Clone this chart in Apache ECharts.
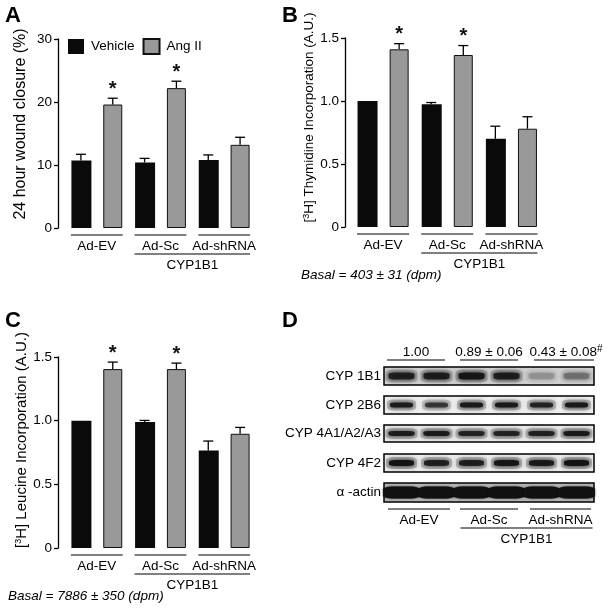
<!DOCTYPE html>
<html><head><meta charset="utf-8">
<script src="https://cdn.jsdelivr.net/npm/echarts@6/dist/echarts.min.js"></script>
<style>html,body{margin:0;padding:0;background:#fff}#c{width:612px;height:610px}</style>
</head><body><div id="c"></div>
<script>
// ---------- data ----------
const groups = ['Ad-EV', 'Ad-Sc', 'Ad-shRNA'];
const slots = ['EV-Veh', 'EV-Ang', 'Sc-Veh', 'Sc-Ang', 'sh-Veh', 'sh-Ang'];
const seriesNames = ['Vehicle', 'Ang II'];

// Panel A: 24 hour wound closure (%)
const aVehicle = [10.7, 10.4, 10.8];
const aVehicleErr = [1.0, 0.65, 0.8];
const aAng = [19.6, 22.2, 13.2];
const aAngErr = [1.0, 1.1, 1.2];
const aStars = [1, 1, 0];

// Panel B: [3H] Thymidine incorporation (A.U.)
const bVehicle = [1.0, 0.975, 0.70];
const bVehicleErr = [0, 0.013, 0.10];
const bAng = [1.41, 1.365, 0.78];
const bAngErr = [0.045, 0.075, 0.095];
const bStars = [1, 1, 0];

// Panel C: [3H] Leucine incorporation (A.U.)
const cVehicle = [1.0, 0.99, 0.765];
const cVehicleErr = [0, 0.012, 0.075];
const cAng = [1.405, 1.405, 0.897];
const cAngErr = [0.055, 0.047, 0.05];
const cStars = [1, 1, 0];

// Panel D: western blot band darkness per lane (0..1)
const blotRows = ['CYP 1B1', 'CYP 2B6', 'CYP 4A1/A2/A3', 'CYP 4F2', 'α -actin'];
const blot1B1 = [0.8, 0.82, 0.9, 0.82, 0.18, 0.3];
const blot2B6 = [0.85, 0.65, 0.88, 0.88, 0.8, 0.88];
const blot4A = [0.85, 0.88, 0.8, 0.8, 0.82, 0.88];
const blot4F2 = [0.95, 0.82, 0.82, 0.92, 0.88, 0.95];
const blotActin = [1, 1, 1, 1, 1, 1];
const blotQuant = ['1.00', '0.89 ± 0.06', '0.43 ± 0.08'];

// ---------- helpers ----------
const FONT = 'Liberation Sans, Arial, sans-serif';
const blotData = [blot1B1, blot2B6, blot4A, blot4F2, blotActin];
const blotBg = ['#d2d2d2', '#f0f0f0', '#ececec', '#eeeeee', '#b5b5b5'];
const blotBand = [[26, 7], [23, 5], [26, 5], [25, 6], [37, 12]];
const blotHalo = [6, 6, 6, 6, 0];

function interleave(veh, ang, which) {
  const out = [];
  for (let i = 0; i < veh.length; i++) {
    out.push(which === 0 ? veh[i] : '-');
    out.push(which === 1 ? ang[i] : '-');
  }
  return out;
}
function errData(veh, vErr, ang, aErr, stars) {
  const out = [];
  for (let i = 0; i < veh.length; i++) {
    out.push([2 * i, veh[i], vErr[i], 0]);
    out.push([2 * i + 1, ang[i], aErr[i], stars[i]]);
  }
  return out;
}
function errRender(params, api) {
  const x = api.value(0), m = api.value(1), e = api.value(2), s = api.value(3);
  const base = api.coord([x, m]);
  const top = api.coord([x, m + e]);
  const ch = [];
  if (e > 0) {
    ch.push({ type: 'line', shape: { x1: base[0], y1: base[1], x2: top[0], y2: top[1] }, style: { stroke: '#000', lineWidth: 1.3 } });
    ch.push({ type: 'line', shape: { x1: top[0] - 5, y1: top[1], x2: top[0] + 5, y2: top[1] }, style: { stroke: '#000', lineWidth: 1.3 } });
  }
  if (s) {
    ch.push({ type: 'text', x: top[0], y: top[1] - 9, style: { text: '*', font: 'bold 20px ' + FONT, fill: '#111', align: 'center', verticalAlign: 'middle' } });
  }
  return { type: 'group', children: ch };
}

const panels = [
  { grid: { left: 65, top: 39, width: 191, height: 189 }, max: 30, interval: 10, veh: aVehicle, vErr: aVehicleErr, ang: aAng, aErr: aAngErr, stars: aStars,
    name: '24 hour wound closure (%)', nameSize: 16, nameGap: 29, namePad: [0, 0, 0, 19], fmt: v => String(v), offset: 7 },
  { grid: { left: 351, top: 38, width: 192.5, height: 189 }, max: 1.5, interval: 0.5, veh: bVehicle, vErr: bVehicleErr, ang: bAng, aErr: bAngErr, stars: bStars,
    name: '[{sup|3}H] Thymidine Incorporation (A.U.)', nameSize: 13.5, nameGap: 20, namePad: [0, 0, 0, 30], fmt: v => v === 0 ? '0' : v.toFixed(1), offset: 6 },
  { grid: { left: 65, top: 357, width: 191, height: 191 }, max: 1.5, interval: 0.5, veh: cVehicle, vErr: cVehicleErr, ang: cAng, aErr: cAngErr, stars: cStars,
    name: '[{sup|3}H] Leucine Incorporation (A.U.)', nameSize: 15, nameGap: 29, namePad: [0, 0, 0, 25], fmt: v => v === 0 ? '0' : v.toFixed(1), offset: 7 }
];
const blotTops = [367, 396, 425, 454, 483];
const blotHeights = [18, 18, 17, 18, 19];

const grids = [], xAxes = [], yAxes = [], series = [];
panels.forEach((p, g) => {
  grids.push(Object.assign({ outerBoundsMode: 'none', containLabel: false }, p.grid));
  xAxes.push({ type: 'category', gridIndex: g, data: slots, axisLine: { show: false }, axisTick: { show: false }, axisLabel: { show: false }, splitLine: { show: false } });
  yAxes.push({ type: 'value', gridIndex: g, min: 0, max: p.max, interval: p.interval, offset: p.offset,
    axisLine: { show: true, lineStyle: { color: '#000', width: 1.3 } },
    axisTick: { show: true, length: 4, lineStyle: { color: '#000', width: 1.3 } },
    axisLabel: { color: '#000', fontSize: 13.5, fontFamily: FONT, margin: 6, formatter: p.fmt },
    splitLine: { show: false },
    name: p.name, nameLocation: 'middle', nameGap: p.nameGap,
    nameTextStyle: { color: '#000', fontSize: p.nameSize, fontFamily: FONT, padding: p.namePad,
      rich: { sup: { fontSize: 9, fontFamily: FONT, color: '#000', verticalAlign: 'top' } } } });
  series.push({ type: 'bar', name: seriesNames[0], xAxisIndex: g, yAxisIndex: g, data: interleave(p.veh, p.ang, 0), barWidth: 20, barGap: '-100%',
    itemStyle: { color: '#0a0a0a' }, silent: true });
  series.push({ type: 'bar', name: seriesNames[1], xAxisIndex: g, yAxisIndex: g, data: interleave(p.veh, p.ang, 1), barWidth: 19, barGap: '-100%',
    itemStyle: { color: '#999999', borderColor: '#111', borderWidth: 1 }, silent: true });
  series.push({ type: 'custom', xAxisIndex: g, yAxisIndex: g, data: errData(p.veh, p.vErr, p.ang, p.aErr, p.stars), renderItem: errRender, z: 5, silent: true });
});
blotRows.forEach((row, r) => {
  const g = 3 + r;
  grids.push({ outerBoundsMode: 'none', containLabel: false, left: 384, top: blotTops[r], width: 210, height: blotHeights[r], show: true, borderColor: '#000', borderWidth: 1.5, backgroundColor: blotBg[r] });
  xAxes.push({ type: 'category', gridIndex: g, data: slots, axisLine: { show: false }, axisTick: { show: false }, axisLabel: { show: false }, splitLine: { show: false } });
  yAxes.push({ type: 'category', gridIndex: g, data: [row], axisLine: { show: false }, axisTick: { show: false }, splitLine: { show: false },
    axisLabel: { color: '#000', fontSize: 13.5, fontFamily: FONT, margin: 3 } });
  if (blotHalo[r] > 0) {
    series.push({ type: 'scatter', xAxisIndex: g, yAxisIndex: g, symbol: 'roundRect', symbolSize: [blotBand[r][0] + blotHalo[r], blotBand[r][1] + blotHalo[r]], silent: true,
      itemStyle: { color: '#333', shadowBlur: 6, shadowColor: 'rgba(0,0,0,0.5)' },
      data: blotData[r].map((v, i) => ({ value: [i, 0], itemStyle: { opacity: v * 0.3 } })) });
  }
  series.push({ type: 'scatter', xAxisIndex: g, yAxisIndex: g, symbol: 'roundRect', symbolSize: blotBand[r], silent: true,
    itemStyle: { color: '#111', shadowBlur: r === 4 ? 2 : 4, shadowColor: 'rgba(0,0,0,0.8)' },
    data: blotData[r].map((v, i) => ({ value: [i, 0], itemStyle: { opacity: v } })) });
});

const chart = echarts.init(document.getElementById('c'), null, { renderer: 'canvas' });
chart.setOption({
  backgroundColor: '#fff',
  animation: false,
  textStyle: { fontFamily: FONT },
  legend: { data: seriesNames, left: 68, top: 38, padding: 0, itemWidth: 16, itemHeight: 15, itemGap: 8, icon: 'rect', selectedMode: false,
    textStyle: { color: '#000', fontSize: 13.5, fontFamily: FONT, padding: [0, 0, 0, 2] } },
  grid: grids, xAxis: xAxes, yAxis: yAxes, series: series
});

// ---------- annotations (positions derived from axes) ----------
const gfx = [];
const T = (x, y, text, opt) => gfx.push(Object.assign({ type: 'text', x: x, y: y, silent: true,
  style: Object.assign({ text: text, font: '13.5px ' + FONT, fill: '#000', align: 'center', verticalAlign: 'middle' }, opt || {}) }));
const L = (x1, y1, x2, y2) => gfx.push({ type: 'line', silent: true, shape: { x1, y1, x2, y2 }, style: { stroke: '#000', lineWidth: 1.2 } });

[0, 1, 2].forEach(g => {
  const px = i => chart.convertToPixel({ xAxisIndex: g }, i);
  const y0 = chart.convertToPixel({ yAxisIndex: g }, 0);
  groups.forEach((name, k) => {
    const x1 = px(2 * k) - 10, x2 = px(2 * k + 1) + 10;
    L(x1, y0 + 7, x2, y0 + 7);
    T((x1 + x2) / 2, y0 + 18, name);
  });
  const c1 = px(2) - 10, c2 = px(5) + 10;
  L(c1, y0 + 26, c2, y0 + 26);
  T((c1 + c2) / 2, y0 + 37, 'CYP1B1');
});
T(301, 275, 'Basal = 403 ± 31 (dpm)', { align: 'left', font: 'italic 13.5px ' + FONT });
T(8, 596, 'Basal = 7886 ± 350 (dpm)', { align: 'left', font: 'italic 13.5px ' + FONT });

// Panel D lane groups
{
  const px = i => chart.convertToPixel({ xAxisIndex: 3 }, i);
  const topY = blotTops[0], botY = blotTops[4] + blotHeights[4];
  const topOff = [[-14.5, 8.5], [-11.5, 11.5], [-7.5, 17.5]];
  const botOff = [[-13.5, 13.5], [-11.5, 11.5], [-11.5, 14.5]];
  groups.forEach((name, k) => {
    const x1 = px(2 * k) + topOff[k][0], x2 = px(2 * k + 1) + topOff[k][1];
    L(x1, topY - 7, x2, topY - 7);
    gfx.push({ type: 'text', silent: true, x: (x1 + x2) / 2 + (k === 2 ? 2 : 0), y: topY - 15,
      style: { text: k === 2 ? blotQuant[k] + '{sup|#}' : blotQuant[k], font: '13.5px ' + FONT, fill: '#000', align: 'center', verticalAlign: 'middle',
        rich: { sup: { font: '10px ' + FONT, fill: '#000', verticalAlign: 'top', padding: [0, 0, 6, 0] } } } });
    const b1 = px(2 * k) + botOff[k][0], b2 = px(2 * k + 1) + botOff[k][1];
    L(b1, botY + 7, b2, botY + 7);
    T((b1 + b2) / 2, botY + 18, name);
  });
  const c1 = px(2) - 11, c2 = px(5) + 16;
  L(c1, botY + 26, c2, botY + 26);
  T((c1 + c2) / 2, botY + 37, 'CYP1B1');
}

// panel letters
[['A', 5, 16], ['B', 282, 16], ['C', 5, 321], ['D', 282, 321]].forEach(([t, x, y]) =>
  T(x, y, t, { align: 'left', font: 'bold 22px ' + FONT }));

chart.setOption({ graphic: { elements: gfx } });
</script>
</body></html>
